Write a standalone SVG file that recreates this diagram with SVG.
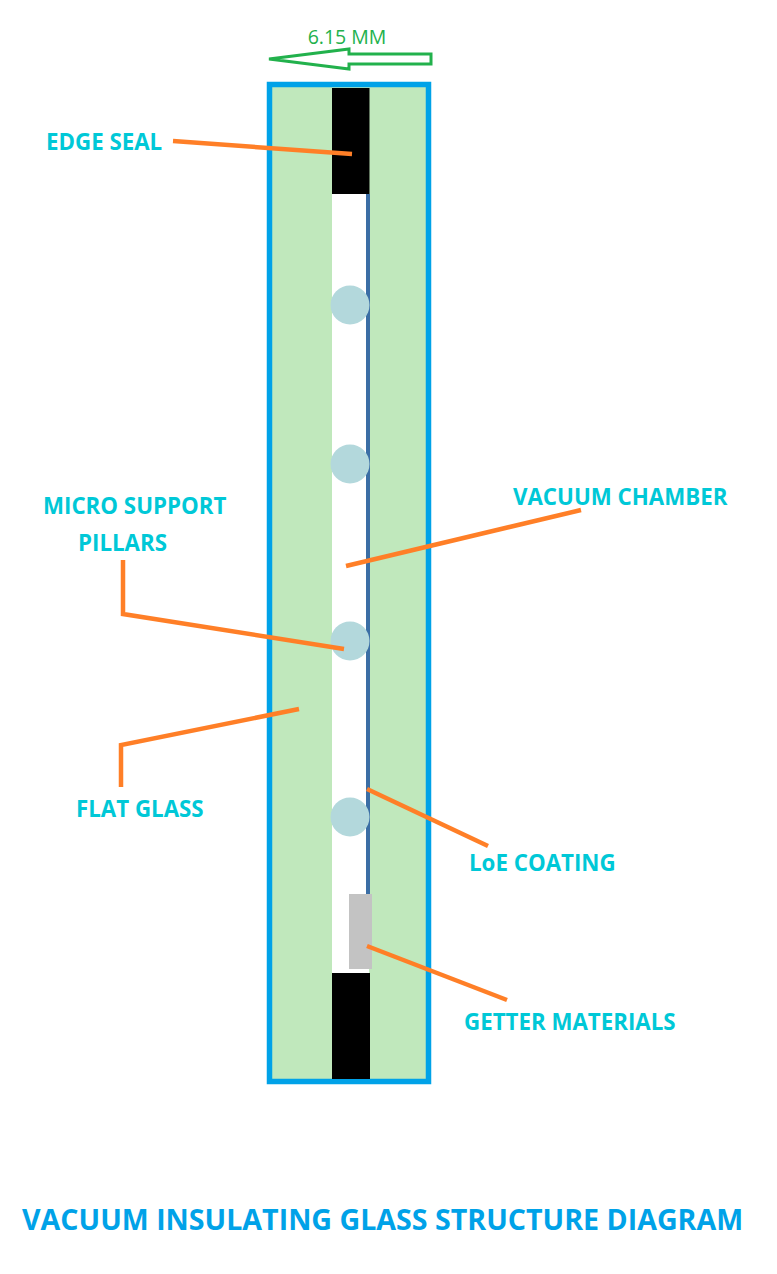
<svg xmlns="http://www.w3.org/2000/svg" width="777" height="1274" viewBox="0 0 777 1274">
<style>
.lbl{font-family:"Open Sans","Liberation Sans",sans-serif;font-size:22.300px;font-weight:700;fill:#00c8d7}
.ld{fill:none;stroke:#ff7f27;stroke-width:4.500;stroke-linejoin:miter}
.pillar{fill:#b3d8dc}
.black{fill:#000}
</style>
<rect width="777" height="1274" fill="#fff"/>
<g id="glass-unit">
<rect x="269.500" y="84.500" width="159" height="997" fill="#c0e8bc" stroke="#00a2e8" stroke-width="5.500"/>
<rect x="332" y="194" width="37" height="779" fill="#fff"/>
</g>
<g id="coating"><rect x="366" y="194" width="4" height="700" fill="#3b6ea5"/></g>
<g id="edge-seal-top"><rect class="black" x="332" y="88" width="37.500" height="106"/></g>
<g id="edge-seal-bottom"><rect class="black" x="332" y="973" width="38" height="106"/></g>
<g id="pillar-1"><circle class="pillar" cx="350" cy="305" r="19.500"/></g>
<g id="pillar-2"><circle class="pillar" cx="350" cy="464" r="19.500"/></g>
<g id="pillar-3"><circle class="pillar" cx="350" cy="641" r="19.500"/></g>
<g id="pillar-4"><circle class="pillar" cx="350" cy="817" r="19.500"/></g>
<g id="getter"><rect x="349" y="894" width="23" height="75" fill="#c3c3c3"/></g>
<g id="dimension">
<polygon points="269,59 349,49 349,54 431,54 431,64 349,64 349,69" fill="#fff" stroke="#22b14c" stroke-width="3"/>
<text x="347" y="44" text-anchor="middle" font-family="'Open Sans','Liberation Sans',sans-serif" font-size="19.500" fill="#22b14c">6.15 MM</text>
</g>
<g id="connectors">
<path class="ld" d="M173 141L352 154"/>
<path class="ld" d="M581 510L346 566"/>
<path class="ld" d="M123 560V614L344 649"/>
<path class="ld" d="M121 787V745L299 709"/>
<path class="ld" d="M367 789L488 846"/>
<path class="ld" d="M367 946L507 1000"/>
</g>
<g id="labels">
<text class="lbl" x="46" y="150">EDGE SEAL</text>
<text class="lbl" x="513" y="505">VACUUM CHAMBER</text>
<text class="lbl" x="43" y="514">MICRO SUPPORT</text>
<text class="lbl" x="78" y="551">PILLARS</text>
<text class="lbl" x="76" y="817">FLAT GLASS</text>
<text class="lbl" x="469" y="871">LoE COATING</text>
<text class="lbl" x="464" y="1030">GETTER MATERIALS</text>
<text x="22" y="1230" font-family="'Open Sans','Liberation Sans',sans-serif" font-size="28.600" font-weight="700" fill="#00a2e8">VACUUM INSULATING GLASS STRUCTURE DIAGRAM</text>
</g>
</svg>
